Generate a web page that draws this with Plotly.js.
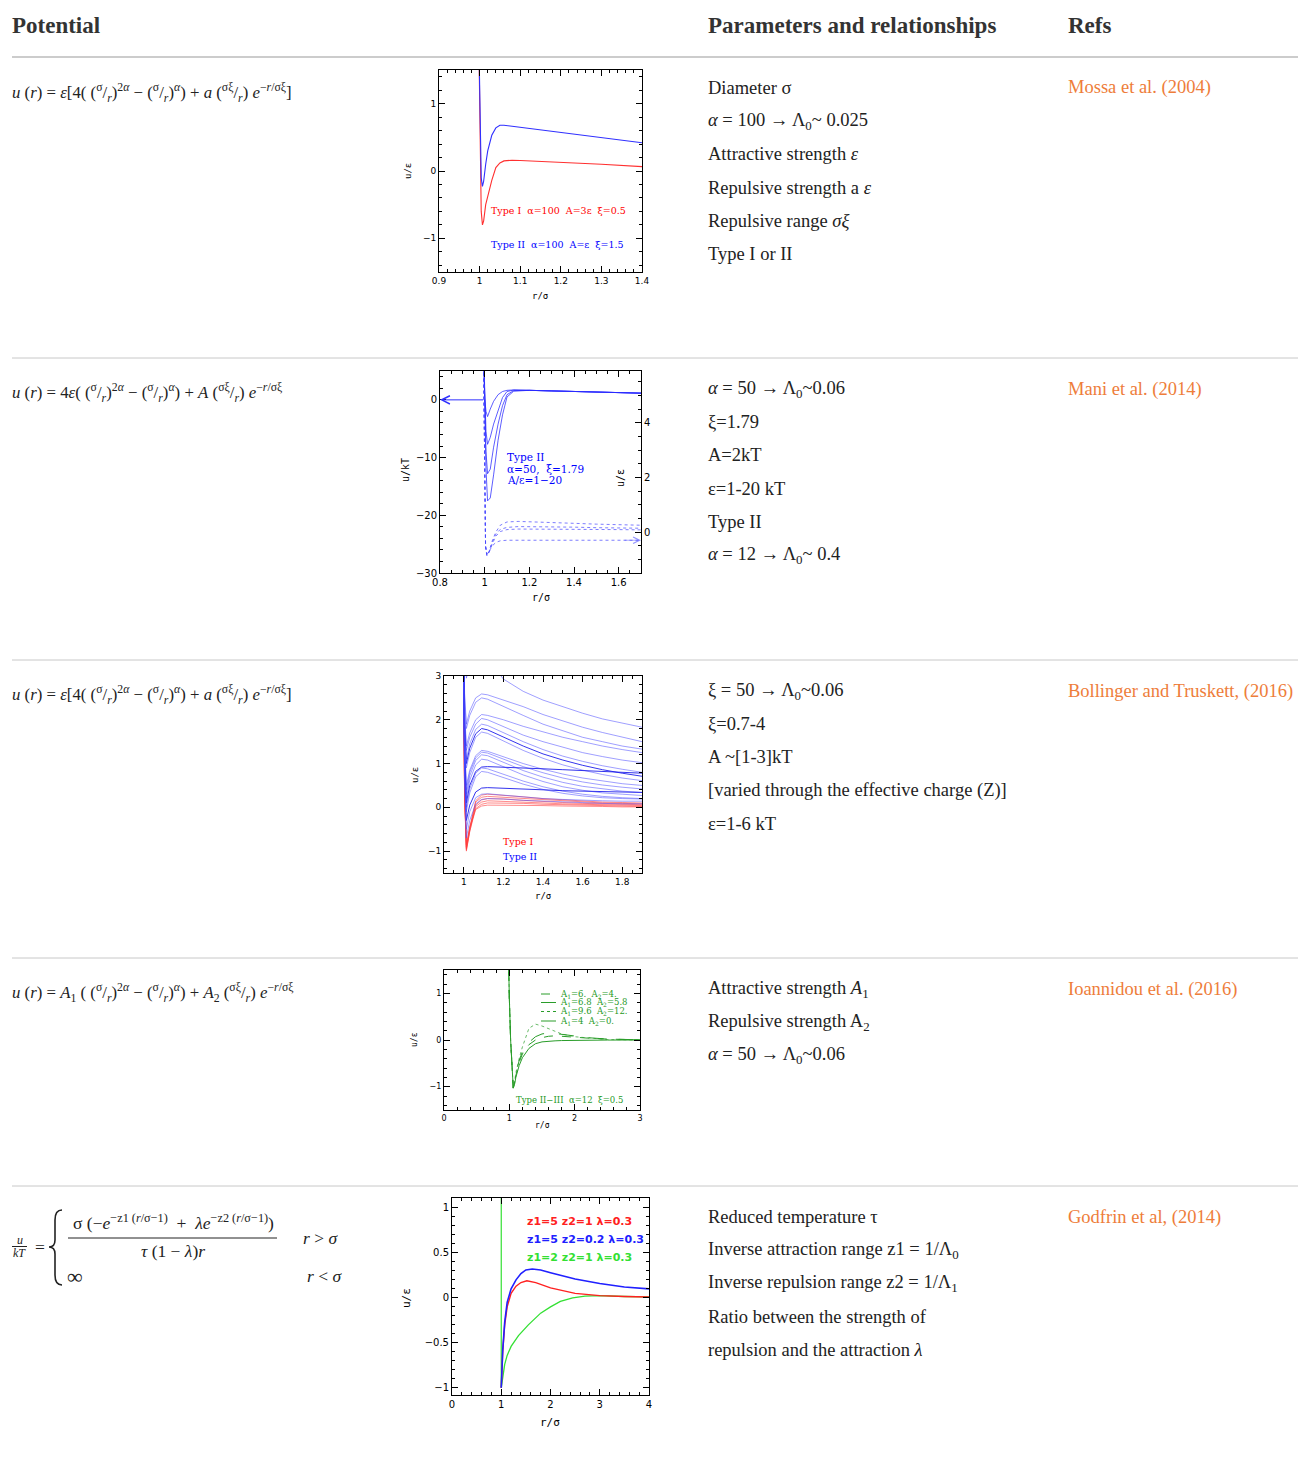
<!DOCTYPE html>
<html><head><meta charset="utf-8">
<script src="https://cdn.plot.ly/plotly-3.0.1.min.js"></script>
<style>body{margin:0;background:#fff}#chart{width:1298px;height:1470px}</style>
</head><body><div id="chart"></div>
<script>
// ---------------- DATA ----------------
// Chart 1 : Mossa et al. (2004)
const mossaR      = [0.998, 1.0, 1.002, 1.004, 1.007, 1.01, 1.015, 1.02, 1.03, 1.04, 1.05, 1.06, 1.08, 1.1, 1.2, 1.3, 1.4];
const mossaTypeI  = [2.0, 1.0, 0.0, -0.6, -0.8, -0.74, -0.5, -0.38, -0.14, 0.05, 0.12, 0.15, 0.16, 0.155, 0.13, 0.1, 0.065];
const mossaTypeII = [2.0, 1.2, 0.4, -0.1, -0.23, -0.15, 0.1, 0.3, 0.53, 0.64, 0.68, 0.68, 0.665, 0.65, 0.57, 0.5, 0.42];

// Chart 2 : Mani et al. (2014)  solid = u/kT (left), dotted = u/eps (right)
const maniR   = [0.997, 1.0, 1.006, 1.013, 1.025, 1.04, 1.06, 1.08, 1.1, 1.13, 1.2, 1.3, 1.4, 1.5, 1.6, 1.7];
const maniKT1 = [6, 0.3, -2.0, -2.9, -1.6, -0.25, 0.9, 1.45, 1.65, 1.72, 1.65, 1.55, 1.45, 1.35, 1.25, 1.16];
const maniKT2 = [6, 0.3, -5.5, -7.7, -6.5, -4.2, -1.8, 0.4, 1.45, 1.7, 1.65, 1.55, 1.45, 1.35, 1.25, 1.16];
const maniKT3 = [6, 0.3, -9.0, -12.8, -12.0, -8.2, -4.2, -1.0, 0.9, 1.6, 1.65, 1.55, 1.45, 1.35, 1.25, 1.16];
const maniKT4 = [6, 0.3, -12.0, -17.5, -17.0, -13.0, -7.0, -2.6, 0.5, 1.5, 1.65, 1.55, 1.45, 1.35, 1.25, 1.16];
const maniRd  = [0.995, 0.999, 1.004, 1.01, 1.02, 1.035, 1.05, 1.07, 1.1, 1.15, 1.2, 1.3, 1.4, 1.5, 1.6, 1.7];
const maniEps1 = [6.5, 2.0, -0.5, -0.87, -0.7, -0.3, 0.0, 0.25, 0.37, 0.39, 0.38, 0.35, 0.32, 0.29, 0.27, 0.25];
const maniEps2 = [6.5, 2.0, -0.5, -0.86, -0.72, -0.35, -0.08, 0.1, 0.17, 0.2, 0.2, 0.19, 0.18, 0.16, 0.15, 0.14];
const maniEps3 = [6.5, 2.0, -0.55, -0.85, -0.75, -0.42, -0.15, 0.02, 0.09, 0.11, 0.11, 0.1, 0.1, 0.09, 0.09, 0.08];
const maniEps4 = [6.5, 2.0, -0.55, -0.8, -0.7, -0.5, -0.38, -0.32, -0.3, -0.3, -0.3, -0.3, -0.3, -0.3, -0.3, -0.3];

// Chart 3 : Bollinger and Truskett (2016)
const bollR = [0.996, 1.004, 1.013, 1.03, 1.06, 1.09, 1.12, 1.2, 1.3, 1.4, 1.5, 1.6, 1.7, 1.8, 1.9];
const bollTypeII = [
  [4.5, 3.6, 2.95, 3.25, 3.5, 3.55, 3.4, 2.93, 2.65, 2.45, 2.3, 2.15, 2.02, 1.92, 1.83],
  [4.5, 2.6, 1.9, 2.2, 2.5, 2.59, 2.57, 2.45, 2.3, 2.12, 1.97, 1.83, 1.71, 1.6, 1.5],
  [4.5, 2.5, 1.8, 2.1, 2.4, 2.5, 2.47, 2.3, 2.1, 1.9, 1.75, 1.6, 1.5, 1.4, 1.33],
  [4.5, 2.2, 1.4, 1.7, 2.0, 2.12, 2.1, 2.0, 1.85, 1.72, 1.6, 1.5, 1.4, 1.32, 1.25],
  [4.5, 2.1, 1.3, 1.6, 1.9, 2.03, 2.0, 1.85, 1.65, 1.5, 1.37, 1.25, 1.16, 1.08, 1.02],
  [4.5, 2.0, 1.1, 1.45, 1.78, 1.9, 1.87, 1.7, 1.5, 1.32, 1.17, 1.05, 0.95, 0.87, 0.8],
  [4.5, 1.9, 1.0, 1.35, 1.68, 1.8, 1.77, 1.6, 1.4, 1.22, 1.08, 0.96, 0.86, 0.78, 0.71],
  [4.5, 1.8, 0.9, 1.25, 1.6, 1.72, 1.69, 1.52, 1.3, 1.12, 0.97, 0.85, 0.75, 0.67, 0.61],
  [4.5, 1.5, 0.5, 0.85, 1.18, 1.3, 1.28, 1.15, 1.0, 0.87, 0.76, 0.67, 0.6, 0.54, 0.5],
  [4.5, 1.4, 0.4, 0.8, 1.13, 1.26, 1.24, 1.1, 0.93, 0.79, 0.67, 0.58, 0.51, 0.46, 0.42],
  [4.5, 1.35, 0.3, 0.72, 1.07, 1.2, 1.18, 1.03, 0.84, 0.69, 0.57, 0.48, 0.42, 0.37, 0.34],
  [4.5, 1.3, 0.2, 0.62, 0.97, 1.1, 1.08, 0.93, 0.74, 0.59, 0.47, 0.39, 0.33, 0.3, 0.27],
  [4.5, 1.2, 0.1, 0.5, 0.82, 0.92, 0.93, 0.92, 0.9, 0.88, 0.86, 0.84, 0.82, 0.8, 0.78],
  [4.5, 1.1, 0.0, 0.42, 0.78, 0.9, 0.88, 0.76, 0.6, 0.47, 0.37, 0.3, 0.25, 0.22, 0.2],
  [4.5, 1.0, -0.1, 0.33, 0.7, 0.82, 0.8, 0.68, 0.53, 0.41, 0.32, 0.26, 0.22, 0.2, 0.19],
  [4.5, 0.9, -0.3, 0.05, 0.35, 0.44, 0.45, 0.44, 0.42, 0.4, 0.38, 0.37, 0.36, 0.35, 0.34],
  [4.5, 0.8, -0.5, -0.1, 0.22, 0.3, 0.31, 0.28, 0.24, 0.2, 0.18, 0.16, 0.15, 0.14, 0.14],
  [4.5, 0.6, -0.7, -0.3, 0.08, 0.18, 0.2, 0.19, 0.16, 0.14, 0.12, 0.1, 0.09, 0.08, 0.08]
];
const bollTypeI = [
  [4.5, 0.4, -0.95, -0.5, 0.15, 0.28, 0.3, 0.28, 0.24, 0.2, 0.17, 0.14, 0.12, 0.11, 0.1],
  [4.5, 0.4, -0.9, -0.45, 0.12, 0.23, 0.25, 0.23, 0.2, 0.17, 0.14, 0.12, 0.1, 0.09, 0.08],
  [4.5, 0.3, -1.0, -0.55, 0.05, 0.17, 0.2, 0.19, 0.16, 0.13, 0.11, 0.09, 0.08, 0.07, 0.06],
  [4.5, 0.35, -0.92, -0.5, 0.02, 0.12, 0.15, 0.14, 0.12, 0.1, 0.08, 0.07, 0.06, 0.05, 0.04],
  [4.5, 0.3, -0.97, -0.55, -0.03, 0.07, 0.1, 0.1, 0.09, 0.07, 0.06, 0.05, 0.04, 0.03, 0.02],
  [4.5, 0.35, -0.85, -0.45, -0.05, 0.03, 0.05, 0.05, 0.05, 0.04, 0.03, 0.03, 0.02, 0.01, 0.01]
];

// Chart 4 : Ioannidou et al. (2016)
const ioanR = [0.97, 0.985, 1.0, 1.02, 1.04, 1.06, 1.08, 1.1, 1.15, 1.2, 1.3, 1.4, 1.5, 1.6, 1.7, 1.8, 2.0, 2.2, 2.5, 3.0];
const ioanA6   = [3, 1.5, 0.9, 0.0, -0.7, -1.03, -0.93, -0.76, -0.48, -0.3, -0.1, 0.0, 0.05, 0.08, 0.09, 0.085, 0.06, 0.04, 0.02, 0.005];
const ioanA68  = [3, 1.5, 0.9, 0.0, -0.7, -1.03, -0.92, -0.74, -0.44, -0.25, -0.05, 0.07, 0.13, 0.15, 0.14, 0.12, 0.08, 0.05, 0.02, 0.005];
const ioanA96  = [3, 1.5, 0.9, 0.0, -0.7, -1.03, -0.9, -0.7, -0.4, -0.15, 0.25, 0.34, 0.3, 0.24, 0.18, 0.13, 0.07, 0.04, 0.01, 0];
const ioanA4   = [3, 1.5, 0.9, 0.0, -0.7, -1.03, -0.95, -0.8, -0.55, -0.38, -0.18, -0.08, -0.04, -0.025, -0.018, -0.012, -0.006, -0.003, -0.001, 0];
const ioanLabels = ['A<sub>1</sub>=6.  A<sub>2</sub>=4.', 'A<sub>1</sub>=6.8  A<sub>2</sub>=5.8', 'A<sub>1</sub>=9.6  A<sub>2</sub>=12.', 'A<sub>1</sub>=4  A<sub>2</sub>=0.'];

// Chart 5 : Godfrin et al. (2014)
const godR1 = [1, 1.03, 1.07, 1.12, 1.2, 1.3, 1.4, 1.52, 1.7, 2.0, 2.5, 3.0, 3.5, 4.0];
const godRed  = [-1, -0.6, -0.3, -0.1, 0.05, 0.13, 0.17, 0.19, 0.17, 0.11, 0.05, 0.025, 0.015, 0.01];
const godR2 = [1, 1.03, 1.07, 1.12, 1.2, 1.3, 1.4, 1.5, 1.63, 1.8, 2.0, 2.5, 3.0, 3.5, 4.0];
const godBlue = [-1, -0.58, -0.27, -0.05, 0.1, 0.2, 0.27, 0.31, 0.32, 0.31, 0.28, 0.21, 0.16, 0.12, 0.1];
const godR3 = [1, 1.03, 1.07, 1.12, 1.2, 1.35, 1.55, 1.8, 2.0, 2.2, 2.45, 2.7, 3.0, 3.5, 4.0];
const godGreen = [-1, -0.86, -0.74, -0.64, -0.54, -0.42, -0.3, -0.17, -0.1, -0.04, 0.0, 0.02, 0.025, 0.015, 0.01];
const godWallR = [1, 1];
const godWallU = [-1, 1.2];

// Table text
const rowParams = [
  ['Diameter σ', '<i>α</i> = 100 → Λ<sub>0</sub>~ 0.025', 'Attractive strength <i>ε</i>', 'Repulsive strength a <i>ε</i>', 'Repulsive range <i>σξ</i>', 'Type I or II'],
  ['<i>α</i> = 50 → Λ<sub>0</sub>~0.06', 'ξ=1.79', 'A=2kT', 'ε=1-20 kT', 'Type II', '<i>α</i> = 12 → Λ<sub>0</sub>~ 0.4'],
  ['ξ = 50 → Λ<sub>0</sub>~0.06', 'ξ=0.7-4', 'A ~[1-3]kT', '[varied through the effective charge (Z)]', 'ε=1-6 kT'],
  ['Attractive strength <i>A</i><sub>1</sub>', 'Repulsive strength A<sub>2</sub>', '<i>α</i> = 50 → Λ<sub>0</sub>~0.06'],
  ['Reduced temperature τ', 'Inverse attraction range z1 = 1/Λ<sub>0</sub>', 'Inverse repulsion range z2 = 1/Λ<sub>1</sub>', 'Ratio between the strength of', 'repulsion and the attraction <i>λ</i>']
];
const rowRefs = ['Mossa et al. (2004)', 'Mani et al. (2014)', 'Bollinger and Truskett, (2016)', 'Ioannidou et al. (2016)', 'Godfrin et al, (2014)'];
const rowTop = [88, 389, 691, 989, 1217];
const headers = ['Potential', 'Parameters and relationships', 'Refs'];

// ---------------- LAYOUT HELPERS ----------------
const W = 1298, H = 1470;
const px = x => x / W;
const py = y => 1 - y / H;
const SERIF = 'Liberation Serif, Times New Roman, serif';
const PLOTF = 'DejaVu Sans, Arial, sans-serif';
const LABF = 'DejaVu Serif, serif';

function mkAxis(a, b, isY, range, dtick, minor, fs, anchor, extra) {
  const o = {
    domain: isY ? [py(b), py(a)] : [px(a), px(b)],
    range: range, dtick: dtick, tick0: 0, anchor: anchor,
    ticks: 'inside', ticklen: 6, tickwidth: 1, tickcolor: '#000',
    showline: true, linecolor: '#000', linewidth: 1, mirror: 'ticks',
    showgrid: false, zeroline: false, fixedrange: true,
    minor: {dtick: minor, tick0: 0, ticks: 'inside', ticklen: 3, tickwidth: 1, tickcolor: '#000', showgrid: false},
    tickfont: {family: PLOTF, size: fs, color: '#000'}
  };
  return Object.assign(o, extra || {});
}

const layout = {
  width: W, height: H, margin: {l: 0, r: 0, t: 0, b: 0},
  paper_bgcolor: '#fff', plot_bgcolor: 'rgba(0,0,0,0)', showlegend: false,
  xaxis:  mkAxis(439, 642, false, [0.9, 1.4], 0.1, 0.02, 9, 'y'),
  yaxis:  mkAxis(70, 272, true, [-1.5, 1.5], 1, 0.2, 9, 'x'),
  xaxis2: mkAxis(440, 641, false, [0.8, 1.7], 0.2, 0.05, 10, 'y2'),
  yaxis2: mkAxis(371, 573, true, [-30, 5], 10, 2, 10, 'x2', {mirror: false}),
  yaxis3: mkAxis(371, 573, true, [-1.5, 5.9], 2, 0.5, 10, 'x2', {overlaying: 'y2', side: 'right', mirror: false}),
  xaxis3: mkAxis(444, 642, false, [0.9, 1.9], 0.2, 0.05, 9, 'y4'),
  yaxis4: mkAxis(676, 873, true, [-1.5, 3], 1, 0.2, 9, 'x3'),
  xaxis4: mkAxis(444, 640, false, [0, 3], 1, 0.2, 8, 'y5'),
  yaxis5: mkAxis(970, 1110, true, [-1.5, 1.5], 1, 0.2, 8, 'x4'),
  xaxis5: mkAxis(452, 649, false, [0, 4], 1, 0.2, 10, 'y6'),
  yaxis6: mkAxis(1198, 1395, true, [-1.08, 1.11], 0.5, 0.1, 10, 'x5'),
  annotations: [], shapes: []
};

const A = layout.annotations, S = layout.shapes;
function txt(x, y, text, font, opts) {
  const o = Object.assign({xanchor: 'left'}, opts || {});
  const dx = o.xanchor === 'left' ? -2 : 0;
  A.push(Object.assign({xref: 'paper', yref: 'paper', x: px(x + dx), y: py(y), text: text, showarrow: false,
    yanchor: 'middle', font: font}, o));
}
function hline(y, x0, x1, color, w) {
  S.push({type: 'line', xref: 'paper', yref: 'paper', x0: px(x0), x1: px(x1), y0: py(y), y1: py(y), line: {color: color, width: w || 1}});
}

// headers
const hf = {family: SERIF, size: 23, color: '#333'};
txt(12, 25, '<b>' + headers[0] + '</b>', hf);
txt(708, 25, '<b>' + headers[1] + '</b>', hf);
txt(1068, 25, '<b>' + headers[2] + '</b>', hf);
hline(57, 12, 1298, '#999');
[358, 660, 958, 1186].forEach(y => hline(y, 12, 1298, '#c8c8c8'));

// params + refs
const bf = {family: SERIF, size: 18.5, color: '#222'};
const rf = {family: SERIF, size: 18.5, color: '#ee7d3a'};
rowParams.forEach((lines, r) => {
  lines.forEach((t, i) => txt(708, rowTop[r] + i * 33.2, t, bf));
  txt(1068, rowTop[r], rowRefs[r], rf);
});

// formulas
const ff = {family: SERIF, size: 16.8, color: '#222'};
const fr = '(<sup>σ</sup>/<sub><i>r</i></sub>)';
const frx = '(<sup>σξ</sup>/<sub><i>r</i></sub>)';
const ex = '<i>e</i><sup>−<i>r</i>/σξ</sup>';
txt(12, 93, '<i>u</i> (<i>r</i>) = <i>ε</i>[4( ' + fr + '<sup>2<i>α</i></sup> − ' + fr + '<sup><i>α</i></sup>) + <i>a</i> ' + frx + ' ' + ex + ']', ff);
txt(12, 393, '<i>u</i> (<i>r</i>) = 4<i>ε</i>( ' + fr + '<sup>2<i>α</i></sup> − ' + fr + '<sup><i>α</i></sup>) + <i>A</i> ' + frx + ' ' + ex, ff);
txt(12, 695, '<i>u</i> (<i>r</i>) = <i>ε</i>[4( ' + fr + '<sup>2<i>α</i></sup> − ' + fr + '<sup><i>α</i></sup>) + <i>a</i> ' + frx + ' ' + ex + ']', ff);
txt(12, 993, '<i>u</i> (<i>r</i>) = <i>A</i><sub>1</sub> ( ' + fr + '<sup>2<i>α</i></sup> − ' + fr + '<sup><i>α</i></sup>) + <i>A</i><sub>2</sub> ' + frx + ' ' + ex, ff);
// piecewise formula
const pf = {family: SERIF, size: 17.5, color: '#222'};
const sf = {family: SERIF, size: 12, color: '#222'};
txt(19.5, 1240, '<i>u</i>', sf, {xanchor: 'center'});
txt(19.5, 1253, '<i>kT</i>', sf, {xanchor: 'center'});
hline(1246.5, 12, 27, '#222');
txt(35, 1247, '=', pf);
S.push({type: 'path', xref: 'paper', yref: 'paper', line: {color: '#222', width: 1.6},
  path: 'M' + px(62) + ',' + py(1210) + ' Q' + px(55) + ',' + py(1210) + ' ' + px(55) + ',' + py(1220) +
        ' L' + px(55) + ',' + py(1240) + ' Q' + px(55) + ',' + py(1247) + ' ' + px(49) + ',' + py(1247) +
        ' Q' + px(55) + ',' + py(1247) + ' ' + px(55) + ',' + py(1254) + ' L' + px(55) + ',' + py(1275) +
        ' Q' + px(55) + ',' + py(1285) + ' ' + px(62) + ',' + py(1285)});
txt(173, 1222, 'σ (−<i>e</i><sup>−z1 (<i>r</i>/σ−1)</sup>  +  <i>λe</i><sup>−z2 (<i>r</i>/σ−1)</sup>)', pf, {xanchor: 'center'});
hline(1238, 68, 277, '#222');
txt(173, 1251, '<i>τ</i> (1 − <i>λ</i>)<i>r</i>', pf, {xanchor: 'center'});
txt(303, 1238, '<i>r</i> > <i>σ</i>', pf);
txt(67, 1276, '∞', {family: SERIF, size: 22, color: '#222'});
txt(307, 1276, '<i>r</i> < <i>σ</i>', pf);

// axis titles (as annotations)
const tf = {family: 'DejaVu Sans Mono, monospace', size: 9, color: '#000'};
function vt(x, y, t, size) { txt(x, y, t, Object.assign({}, tf, {size: size || 9}), {xanchor: 'center', textangle: -90}); }
function ht(x, y, t, size) { txt(x, y, t, Object.assign({}, tf, {size: size || 9}), {xanchor: 'center'}); }
vt(408, 171, 'u/ε'); ht(540, 296, 'r/σ');
vt(405, 470, 'u/kT', 10); vt(620, 478, 'u/ε', 10); ht(541, 598, 'r/σ', 10);
vt(415, 775, 'u/ε'); ht(543, 896, 'r/σ');
vt(414, 1040, 'u/ε', 8); ht(542, 1125, 'r/σ', 8);
vt(406, 1298, 'u/ε', 11); ht(550, 1422, 'r/σ', 11);

// in-chart labels
txt(491, 211, 'Type I  α=100  A=3ε  ξ=0.5', {family: LABF, size: 9.5, color: '#ff0000'});
txt(491, 245, 'Type II  α=100  A=ε  ξ=1.5', {family: LABF, size: 9.5, color: '#0000ff'});
txt(507, 457, 'Type II', {family: LABF, size: 10.5, color: '#0000ff'});
txt(507, 468.5, 'α=50,  ξ=1.79', {family: LABF, size: 10.5, color: '#0000ff'});
txt(507, 480, 'A/ε=1−20', {family: LABF, size: 10.5, color: '#0000ff'});
txt(503, 842, 'Type I', {family: LABF, size: 9.5, color: '#ff0000'});
txt(503, 856, 'Type II', {family: LABF, size: 9.5, color: '#0000ff'});
txt(516, 1100, 'Type II−III  α=12  ξ=0.5', {family: LABF, size: 8.5, color: '#1f9a1f'});
txt(527, 1221, '<b>z1=5 z2=1 λ=0.3</b>', {family: PLOTF, size: 11, color: '#ff2020'});
txt(527, 1239, '<b>z1=5 z2=0.2 λ=0.3</b>', {family: PLOTF, size: 11, color: '#2020ff'});
txt(527, 1257, '<b>z1=2 z2=1 λ=0.3</b>', {family: PLOTF, size: 11, color: '#33e033'});

// chart 4 key
const keyDash = ['dash', 'longdash', 'dot', 'solid'];
const keyY = [994, 1002.5, 1011.5, 1021];
ioanLabels.forEach((t, i) => {
  S.push({type: 'line', xref: 'paper', yref: 'paper', x0: px(541), x1: px(556), y0: py(keyY[i]), y1: py(keyY[i]),
    line: {color: '#2a9d2a', width: 1, dash: keyDash[i]}});
  txt(560, keyY[i], t, {family: LABF, size: 8.5, color: '#1f9a1f'});
});

// chart 2 arrows
A.push({xref: 'x2', yref: 'y2', axref: 'x2', ayref: 'y2', x: 0.8, y: 0, ax: 1.0, ay: 0, text: '', showarrow: true,
  arrowhead: 5, arrowsize: 1.6, arrowwidth: 1, arrowcolor: '#3030ff', standoff: 0});
A.push({xref: 'x2', yref: 'y3', axref: 'x2', ayref: 'y3', x: 1.7, y: -0.3, ax: 1.62, ay: -0.3, text: '', showarrow: true,
  arrowhead: 5, arrowsize: 1.6, arrowwidth: 0.8, arrowcolor: 'rgba(80,80,255,0.6)', standoff: 0});

// ---------------- TRACES ----------------
const traces = [];
function line(x, y, xa, ya, color, width, dash) {
  traces.push({type: 'scatter', mode: 'lines', x: x, y: y, xaxis: xa, yaxis: ya,
    line: {color: color, width: width, dash: dash || 'solid'}, hoverinfo: 'skip'});
}
// chart 1
line(mossaR, mossaTypeI, 'x', 'y', '#ff3030', 1.1);
line(mossaR, mossaTypeII, 'x', 'y', '#3030ff', 1.1);
// chart 2
[maniEps1, maniEps2, maniEps3, maniEps4].forEach(u => line(maniRd, u, 'x2', 'y3', 'rgba(70,70,255,0.7)', 1, 'dot'));
[maniKT1, maniKT2, maniKT3, maniKT4].forEach(u => line(maniR, u, 'x2', 'y2', 'rgba(40,40,255,0.75)', 1));
// chart 3
bollTypeI.forEach(u => line(bollR, u, 'x3', 'y4', 'rgba(255,60,60,0.6)', 1));
bollTypeII.forEach((u, i) => line(bollR, u, 'x3', 'y4',
  (i === 6 || i === 12 || i === 15) ? 'rgba(30,30,235,0.9)' : 'rgba(80,80,255,0.55)', 1));
// chart 4
line(ioanR, ioanA4, 'x4', 'y5', '#2a9d2a', 1);
line(ioanR, ioanA6, 'x4', 'y5', '#2a9d2a', 1, 'dash');
line(ioanR, ioanA68, 'x4', 'y5', '#2a9d2a', 1, 'longdash');
line(ioanR, ioanA96, 'x4', 'y5', 'rgba(42,157,42,0.7)', 1, 'dot');
// chart 5
line(godWallR, godWallU, 'x5', 'y6', '#33e033', 1.2);
line(godR3, godGreen, 'x5', 'y6', '#33e033', 1.3);
line(godR1, godRed, 'x5', 'y6', '#ff2020', 1.4);
line(godR2, godBlue, 'x5', 'y6', '#2020ff', 1.6);

Plotly.newPlot('chart', traces, layout, {staticPlot: true, displayModeBar: false});
</script></body></html>
